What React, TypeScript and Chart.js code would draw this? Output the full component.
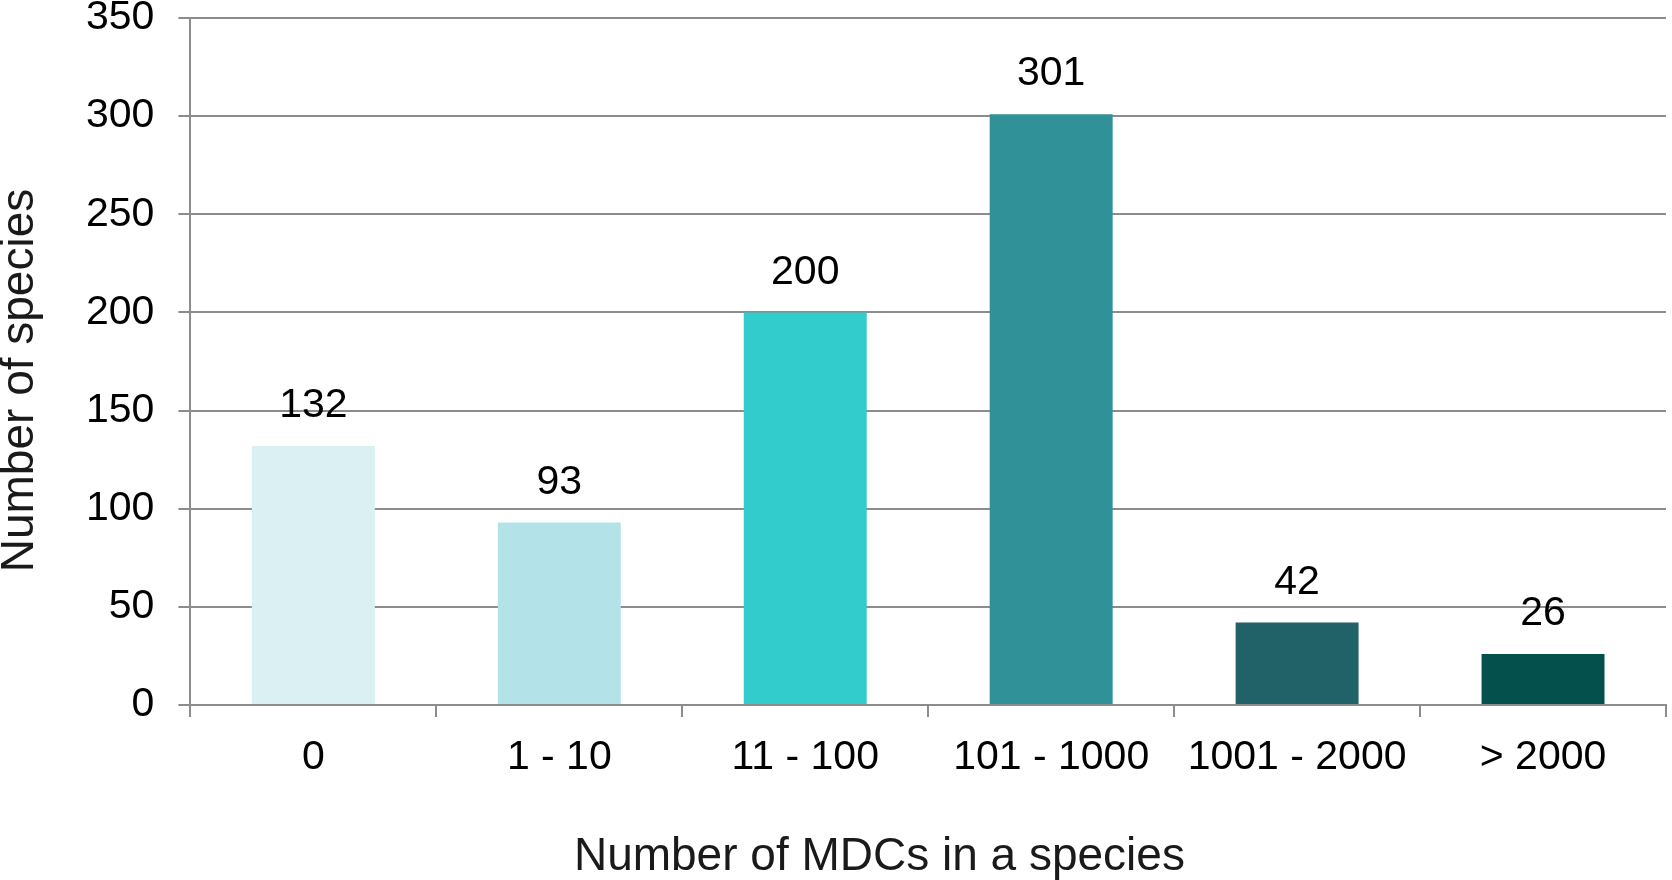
import { useEffect, useRef } from 'react';
import Chart from 'chart.js/auto';

const categories = ['0', '1 - 10', '11 - 100', '101 - 1000', '1001 - 2000', '> 2000'];
const speciesCounts = [132, 93, 200, 301, 42, 26];
const barColors = ['#daf0f3', '#b3e3e8', '#33cccc', '#319199', '#216168', '#03504c'];
const yTicks = [0, 50, 100, 150, 200, 250, 300, 350];
const xTitle = 'Number of MDCs in a species';
const yTitle = 'Number of species';

const FONT = "'Liberation Sans', Arial, sans-serif";
const GRID = '#8c8c8c';

// 막대 위 값 표시
const valueLabels = {
  id: 'valueLabels',
  afterDatasetsDraw(chart: Chart) {
    const { ctx } = chart;
    const meta = chart.getDatasetMeta(0);
    ctx.save();
    ctx.font = `41px ${FONT}`;
    ctx.fillStyle = '#000';
    ctx.textAlign = 'center';
    ctx.textBaseline = 'middle';
    meta.data.forEach((bar: any, i: number) => {
      ctx.fillText(String(speciesCounts[i]), bar.x, bar.y - 40);
    });
    ctx.restore();
  }
};

// 축 제목 (원본처럼 약간 치우친 위치)
const axisTitles = {
  id: 'axisTitles',
  afterDraw(chart: Chart) {
    const { ctx, chartArea } = chart;
    ctx.save();
    ctx.font = `46px ${FONT}`;
    ctx.fillStyle = '#1a1a1a';
    ctx.textAlign = 'center';
    ctx.textBaseline = 'middle';
    ctx.fillText(xTitle, chartArea.left + 689, chartArea.bottom + 152);
    ctx.translate(20, (chartArea.top + chartArea.bottom) / 2 + 19);
    ctx.rotate(-Math.PI / 2);
    ctx.fillText(yTitle, 0, 0);
    ctx.restore();
  }
};

export default function App() {
  const chartRef = useRef<HTMLCanvasElement>(null);
  const chartInstance = useRef<Chart | null>(null);

  useEffect(() => {
    document.body.style.margin = '0';
    if (!chartRef.current) return;
    if (chartInstance.current) {
      chartInstance.current.destroy();
    }
    const ctx = chartRef.current.getContext('2d');
    if (!ctx) return;

    chartInstance.current = new Chart(ctx, {
      type: 'bar',
      data: {
        labels: categories,
        datasets: [
          {
            label: yTitle,
            data: speciesCounts,
            backgroundColor: barColors,
            borderWidth: 0,
            barPercentage: 0.5,
            categoryPercentage: 1
          }
        ]
      },
      options: {
        responsive: true,
        maintainAspectRatio: false,
        animation: false,
        layout: { padding: { top: 18, right: 6, bottom: 82, left: 62 } },
        plugins: {
          legend: { display: false },
          tooltip: { enabled: false }
        },
        scales: {
          x: {
            grid: {
              offset: true,
              drawOnChartArea: false,
              drawTicks: true,
              tickLength: 12,
              color: GRID,
              lineWidth: 2
            },
            border: { color: GRID, width: 2 },
            ticks: {
              color: '#000',
              padding: 20,
              font: { family: FONT, size: 41, lineHeight: 1 }
            }
          },
          y: {
            min: 0,
            max: 350,
            afterBuildTicks: (axis: any) => {
              axis.ticks = yTicks.map(v => ({ value: v }));
            },
            afterFit: (axis: any) => {
              axis.paddingTop = 0;
              axis.paddingBottom = 0;
            },
            grid: {
              tickLength: 12,
              color: GRID,
              lineWidth: 2
            },
            border: { color: GRID, width: 2 },
            ticks: {
              color: '#000',
              padding: 24,
              font: { family: FONT, size: 41, lineHeight: 1 }
            }
          }
        }
      },
      plugins: [valueLabels, axisTitles]
    });

    return () => {
      if (chartInstance.current) {
        chartInstance.current.destroy();
        chartInstance.current = null;
      }
    };
  }, []);

  return (
    <div style={{ width: 1672, height: 880, position: 'relative', background: '#fff' }}>
      <canvas ref={chartRef} />
    </div>
  );
}
